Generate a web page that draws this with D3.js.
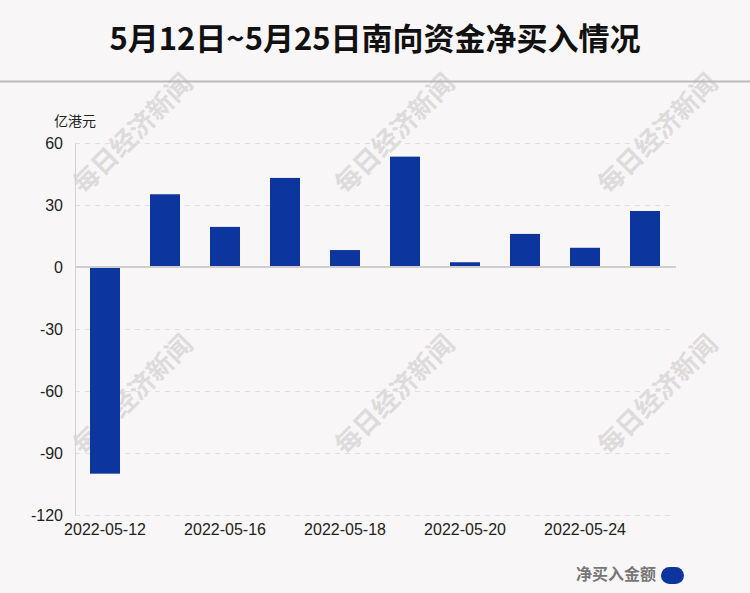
<!DOCTYPE html>
<html><head><meta charset="utf-8">
<script src="https://cdn.jsdelivr.net/npm/d3@7/dist/d3.min.js"></script>
<style>
body{margin:0;background:#f9f6f7;}
svg{display:block;}
</style></head>
<body><svg id="c" width="750" height="593"></svg>
<script>
const title = "5月12日~5月25日南向资金净买入情况";
const unitLabel = "亿港元";
const seriesName = "净买入金额";
const watermark = "每日经济新闻";
const dates = ["2022-05-12","2022-05-13","2022-05-16","2022-05-17","2022-05-18","2022-05-19","2022-05-20","2022-05-23","2022-05-24","2022-05-25"];
const values = [-100.0, 35.2, 19.4, 43.1, 8.2, 53.4, 2.3, 16.0, 9.3, 27.1];
const yTicks = [60, 30, 0, -30, -60, -90, -120];
const xTickLabels = ["2022-05-12","2022-05-16","2022-05-18","2022-05-20","2022-05-24"];

const W = 750, H = 593;
const svg = d3.select("#c");
const font = "'Liberation Sans', Arial, sans-serif";
const cjk = "'Noto Sans CJK SC', sans-serif";

svg.append("rect").attr("width", W).attr("height", H).attr("fill", "#f9f6f7");

const m = {left: 75, right: 75, top: 143, bottom: 78};
const x = d3.scaleBand().domain(dates).range([m.left, W - m.right]).paddingInner(0.5).paddingOuter(0.25);
const y = d3.scaleLinear().domain([-120, 60]).range([H - m.bottom, m.top]);

// watermarks
const wmX = [131, 393, 656], wmY = [132, 393];
const wm = svg.append("g");
wmY.forEach(cy => wmX.forEach(cx => {
  wm.append("text").attr("transform", `translate(${cx},${cy}) rotate(-45)`)
    .attr("text-anchor", "middle").attr("dominant-baseline", "central")
    .attr("font-family", cjk).attr("font-weight", "bold")
    .attr("font-size", 26).attr("fill", "#dedbdc")
    .text(watermark);
}));

// title
svg.append("text").attr("x", W / 2).attr("y", 50).attr("text-anchor", "middle")
  .attr("font-family", cjk).attr("font-weight", "bold").attr("font-size", 31)
  .attr("fill", "#111").text(title);
svg.append("line").attr("x1", 0).attr("x2", W).attr("y1", 81.5).attr("y2", 81.5)
  .attr("stroke", "#bbbbbb").attr("stroke-width", 2);

// grid
const grid = svg.append("g").call(d3.axisLeft(y).tickValues(yTicks).tickSize(-(W - m.left - m.right)).tickFormat(""))
  .attr("transform", `translate(${m.left},0)`);
grid.select(".domain").remove();
grid.selectAll(".tick line").attr("stroke", "#e2dfe0").attr("stroke-dasharray", "5,5")
  .attr("stroke-width", 1);
grid.selectAll(".tick").filter(d => d === 0).remove();

// left axis line
svg.append("line").attr("x1", m.left + 0.5).attr("x2", m.left + 0.5).attr("y1", y(60)).attr("y2", y(-120))
  .attr("stroke", "#d4d1d2").attr("stroke-width", 1);

// y labels
const ya = svg.append("g").attr("transform", `translate(${m.left},0)`)
  .call(d3.axisLeft(y).tickValues(yTicks).tickSize(0).tickPadding(12).tickFormat(d => String(d)));
ya.select(".domain").remove();
ya.selectAll("text").attr("font-family", font).attr("font-size", 16).attr("fill", "#222");

svg.append("text").attr("x", 54).attr("y", 126).attr("font-family", cjk).attr("font-size", 14)
  .attr("fill", "#222").text(unitLabel);

// bars
svg.append("g").selectAll("rect").data(values).join("rect")
  .attr("x", (d, i) => x(dates[i]))
  .attr("width", x.bandwidth())
  .attr("y", d => y(Math.max(0, d)))
  .attr("height", d => Math.abs(y(d) - y(0)))
  .attr("fill", "#0c359e");

// zero line
svg.append("line").attr("x1", m.left).attr("x2", W - m.right + 1).attr("y1", y(0)).attr("y2", y(0))
  .attr("stroke", "#d0cdce").attr("stroke-width", 2);

// x labels
const xa = svg.append("g").attr("transform", `translate(0,${y(-120)})`)
  .call(d3.axisBottom(x).tickValues(xTickLabels).tickSize(0).tickPadding(9));
xa.select(".domain").remove();
xa.selectAll("text").attr("font-family", font).attr("font-size", 16).attr("fill", "#222");

// legend
svg.append("text").attr("x", 656).attr("y", 580).attr("text-anchor", "end")
  .attr("font-family", cjk).attr("font-weight", "bold").attr("font-size", 16)
  .attr("fill", "#777").text(seriesName);
svg.append("rect").attr("x", 661).attr("y", 567).attr("width", 23).attr("height", 17)
  .attr("rx", 8.5).attr("fill", "#0c359e");
</script></body></html>
